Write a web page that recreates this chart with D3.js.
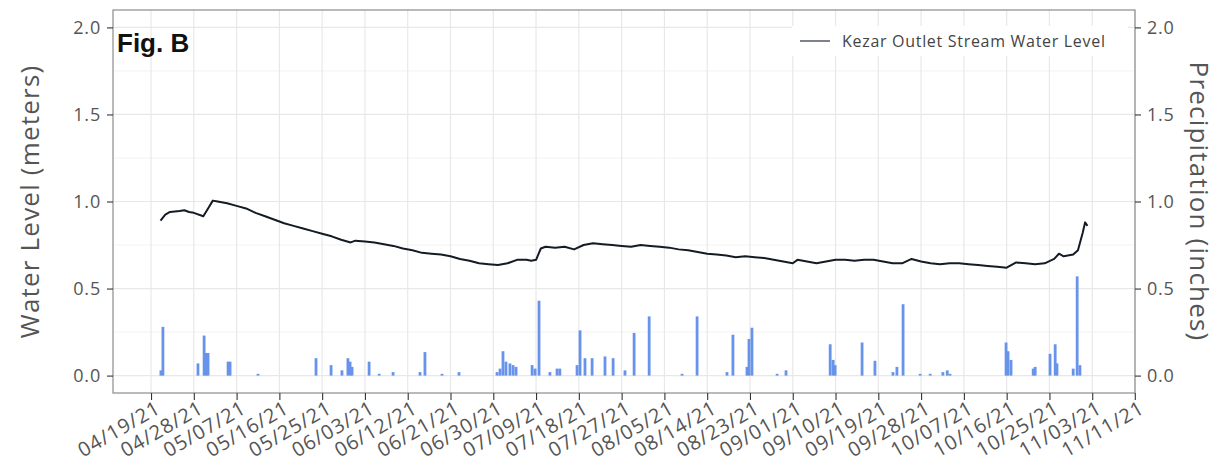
<!DOCTYPE html>
<html lang="en">
<head>
<meta charset="UTF-8">
<title>Fig. B</title>
<script src="https://d3js.org/d3.v7.min.js"></script>
<style>
  body { margin: 0; background: #fff; }
  text { font-family: "Open Sans", Lato, sans-serif; }
</style>
</head>
<body>
<div class="chart"></div>
<script>
// water level readings (meters)
const levelDates = ['2021-04-21 00','2021-04-22 00','2021-04-23 00','2021-04-25 00','2021-04-26 00','2021-04-27 00','2021-04-28 00','2021-04-30 00',
  '2021-05-01 00','2021-05-02 00','2021-05-03 00','2021-05-05 00','2021-05-07 00','2021-05-09 00','2021-05-11 00','2021-05-13 00','2021-05-15 00',
  '2021-05-17 00','2021-05-19 00','2021-05-21 00','2021-05-23 00','2021-05-25 00','2021-05-27 00','2021-05-29 00','2021-05-31 00',
  '2021-06-01 00','2021-06-03 00','2021-06-05 00','2021-06-07 00','2021-06-09 00','2021-06-11 00','2021-06-13 00','2021-06-15 00',
  '2021-06-17 00','2021-06-19 00','2021-06-21 00','2021-06-23 00','2021-06-25 00','2021-06-27 00','2021-06-29 00',
  '2021-07-01 00','2021-07-03 00','2021-07-05 00','2021-07-07 00','2021-07-08 00','2021-07-09 00','2021-07-10 00','2021-07-11 00',
  '2021-07-13 00','2021-07-15 00','2021-07-17 00','2021-07-19 00','2021-07-21 00','2021-07-23 00','2021-07-25 00','2021-07-27 00',
  '2021-07-29 00','2021-07-31 00','2021-08-02 00','2021-08-04 00','2021-08-06 00','2021-08-08 00','2021-08-10 00','2021-08-12 00',
  '2021-08-14 00','2021-08-16 00','2021-08-18 00','2021-08-20 00','2021-08-22 00','2021-08-24 00','2021-08-26 00','2021-08-28 00',
  '2021-08-30 00','2021-09-01 00','2021-09-02 00','2021-09-04 00','2021-09-06 00','2021-09-08 00','2021-09-10 00','2021-09-12 00',
  '2021-09-14 00','2021-09-16 00','2021-09-18 00','2021-09-20 00','2021-09-22 00','2021-09-24 00','2021-09-26 00','2021-09-28 00',
  '2021-09-30 00','2021-10-02 00','2021-10-04 00','2021-10-06 00','2021-10-08 00','2021-10-10 00','2021-10-12 00','2021-10-14 00',
  '2021-10-16 00','2021-10-18 00','2021-10-20 00','2021-10-22 00','2021-10-24 00','2021-10-26 00','2021-10-27 00','2021-10-28 00',
  '2021-10-30 00','2021-10-31 00','2021-11-01 00','2021-11-01 12','2021-11-02 00']
const levelValues = [0.89,0.925,0.94,0.945,0.95,0.94,0.935,0.915,
  0.96,1.005,1.0,0.99,0.975,0.96,0.935,0.915,0.895,
  0.875,0.86,0.845,0.83,0.815,0.80,0.78,0.765,
  0.775,0.77,0.765,0.755,0.745,0.73,0.72,0.705,
  0.70,0.695,0.685,0.67,0.66,0.645,0.64,
  0.635,0.645,0.665,0.665,0.66,0.665,0.73,0.74,
  0.735,0.74,0.725,0.75,0.76,0.755,0.75,0.745,
  0.74,0.75,0.745,0.74,0.735,0.725,0.72,0.71,
  0.70,0.695,0.69,0.68,0.685,0.68,0.675,0.665,
  0.655,0.645,0.665,0.655,0.645,0.655,0.665,0.665,
  0.66,0.665,0.665,0.655,0.645,0.645,0.67,0.655,
  0.645,0.64,0.645,0.645,0.64,0.635,0.63,0.625,
  0.62,0.65,0.645,0.64,0.645,0.67,0.70,0.685,
  0.695,0.72,0.82,0.88,0.86]

// precipitation (inches)
const rainDates = ['2021-04-21 02','2021-04-21 12','2021-04-28 21','2021-04-30 04','2021-04-30 14','2021-05-01 00','2021-05-05 05','2021-05-05 15',
  '2021-05-11 12','2021-05-23 17','2021-05-26 21','2021-05-29 04','2021-05-30 10','2021-05-30 21','2021-05-31 07','2021-06-03 21',
  '2021-06-06 00','2021-06-08 22','2021-06-14 14','2021-06-15 15','2021-06-19 05','2021-06-22 19','2021-06-30 19','2021-07-01 10',
  '2021-07-02 01','2021-07-02 16','2021-07-03 12','2021-07-04 04','2021-07-04 19','2021-07-08 04','2021-07-08 19','2021-07-09 15',
  '2021-07-11 22','2021-07-13 10','2021-07-14 00','2021-07-17 15','2021-07-18 06','2021-07-19 07','2021-07-20 19','2021-07-23 12',
  '2021-07-25 05','2021-07-27 17','2021-07-29 15','2021-08-01 19','2021-08-08 17','2021-08-11 21','2021-08-18 04','2021-08-19 10',
  '2021-08-22 09','2021-08-22 19','2021-08-23 10','2021-08-28 17','2021-08-30 14','2021-09-08 21','2021-09-09 12','2021-09-09 22',
  '2021-09-15 14','2021-09-18 07','2021-09-22 02','2021-09-22 22','2021-09-24 05','2021-09-27 19','2021-09-29 22','2021-10-02 14',
  '2021-10-03 12','2021-10-04 02','2021-10-15 21','2021-10-16 07','2021-10-16 22','2021-10-21 14','2021-10-22 00','2021-10-25 03',
  '2021-10-26 05','2021-10-26 14','2021-10-30 00','2021-10-30 20','2021-10-31 10']
const rainValues = [0.03,0.28,0.07,0.23,0.13,0.13,0.08,0.08,
  0.01,0.10,0.06,0.03,0.10,0.08,0.05,0.08,
  0.01,0.02,0.02,0.135,0.01,0.02,0.02,0.04,
  0.14,0.08,0.07,0.06,0.05,0.06,0.04,0.43,
  0.02,0.04,0.04,0.06,0.26,0.10,0.10,0.11,
  0.10,0.03,0.245,0.34,0.01,0.34,0.02,0.235,
  0.05,0.21,0.275,0.01,0.03,0.18,0.09,0.06,
  0.19,0.085,0.02,0.05,0.41,0.01,0.01,0.02,
  0.03,0.01,0.19,0.14,0.09,0.04,0.05,0.125,
  0.18,0.07,0.04,0.57,0.06]

// x ticks every 9 days (last one falls on 11/11 after the DST shift)
const tickDates = ['2021-04-19 00','2021-04-28 00','2021-05-07 00','2021-05-16 00','2021-05-25 00','2021-06-03 00','2021-06-12 00','2021-06-21 00',
  '2021-06-30 00','2021-07-09 00','2021-07-18 00','2021-07-27 00','2021-08-05 00','2021-08-14 00','2021-08-23 00','2021-09-01 00',
  '2021-09-10 00','2021-09-19 00','2021-09-28 00','2021-10-07 00','2021-10-16 00','2021-10-25 00','2021-11-03 00','2021-11-11 23']
const tickLabels = ['04/19/21','04/28/21','05/07/21','05/16/21','05/25/21','06/03/21','06/12/21','06/21/21',
  '06/30/21','07/09/21','07/18/21','07/27/21','08/05/21','08/14/21','08/23/21','09/01/21',
  '09/10/21','09/19/21','09/28/21','10/07/21','10/16/21','10/25/21','11/03/21','11/11/21']
const yTicks = [0, 0.5, 1, 1.5, 2]
const yMinor = [0.25, 0.75, 1.25, 1.75]

const parse = d3.utcParse('%Y-%m-%d %H')
const width = 1218, height = 476
const panel = {left: 113, right: 1135, top: 10, bottom: 393}

const svg = d3.select('.chart').append('svg')
  .attr('width', width).attr('height', height)

const x = d3.scaleUtc()
  .domain([parse('2021-04-11 00'), parse('2021-11-12 00')])
  .range([panel.left, panel.right])
const y = d3.scaleLinear()
  .domain([-0.1, 2.1])
  .range([panel.bottom, panel.top])

// grid
const grid = svg.append('g')
grid.selectAll('.minor').data(yMinor).join('line')
  .attr('x1', panel.left).attr('x2', panel.right)
  .attr('y1', d => y(d)).attr('y2', d => y(d))
  .attr('stroke', '#f2f2f2').attr('stroke-width', 1)
grid.selectAll('.hmaj').data(yTicks).join('line')
  .attr('x1', panel.left).attr('x2', panel.right)
  .attr('y1', d => y(d)).attr('y2', d => y(d))
  .attr('stroke', '#e8e8e8').attr('stroke-width', 1.2)
grid.selectAll('.vmaj').data(tickDates).join('line')
  .attr('x1', d => x(parse(d))).attr('x2', d => x(parse(d)))
  .attr('y1', panel.top).attr('y2', panel.bottom)
  .attr('stroke', '#e8e8e8').attr('stroke-width', 1.2)

// precipitation bars
const barW = 2.8
svg.append('g').selectAll('rect')
  .data(rainDates.map((d, i) => ({date: parse(d), v: rainValues[i]})))
  .join('rect')
  .attr('x', d => x(d.date) - barW / 2)
  .attr('y', d => y(d.v))
  .attr('width', barW)
  .attr('height', d => y(0) - y(d.v))
  .attr('fill', '#6893ea')

// water level line
const line = d3.line().x(d => x(d.date)).y(d => y(d.v))
svg.append('path')
  .datum(levelDates.map((d, i) => ({date: parse(d), v: levelValues[i]})))
  .attr('d', line)
  .attr('fill', 'none')
  .attr('stroke', '#141b26')
  .attr('stroke-width', 2)
  .attr('stroke-linejoin', 'round')

// panel border
svg.append('rect')
  .attr('x', panel.left).attr('y', panel.top)
  .attr('width', panel.right - panel.left).attr('height', panel.bottom - panel.top)
  .attr('fill', 'none').attr('stroke', '#8c8c8c').attr('stroke-width', 1.2)

// axes
const yLeft = svg.append('g')
  .attr('transform', `translate(${panel.left},0)`)
  .call(d3.axisLeft(y).tickValues(yTicks).tickFormat(d3.format('.1f')).tickSize(6).tickPadding(6))
const yRight = svg.append('g')
  .attr('transform', `translate(${panel.right},0)`)
  .call(d3.axisRight(y).tickValues(yTicks).tickFormat(d3.format('.1f')).tickSize(6).tickPadding(6))
const xAxis = svg.append('g')
  .attr('transform', `translate(0,${panel.bottom})`)
  .call(d3.axisBottom(x).tickValues(tickDates.map(parse))
    .tickFormat((d, i) => tickLabels[i]).tickSize(7))

;[yLeft, yRight, xAxis].forEach(g => {
  g.select('.domain').remove()
  g.selectAll('.tick line').attr('stroke', '#333').attr('stroke-width', 1.1)
  g.selectAll('.tick text').attr('fill', '#555')
    .style('font-size', '18px').style('letter-spacing', '0.8px')
})

xAxis.selectAll('.tick text')
  .style('font-size', '20px')
  .style('letter-spacing', '1px')
  .attr('text-anchor', 'end')
  .attr('x', 0).attr('y', 0)
  .attr('dy', '0.75em')
  .attr('transform', 'translate(3,6) rotate(-30)')

// axis titles
svg.append('text')
  .attr('transform', `translate(39,${(panel.top + panel.bottom) / 2}) rotate(-90)`)
  .attr('text-anchor', 'middle')
  .attr('fill', '#555')
  .style('font-size', '26px')
  .style('letter-spacing', '1.2px')
  .text('Water Level (meters)')
svg.append('text')
  .attr('transform', `translate(1190,${(panel.top + panel.bottom) / 2}) rotate(90)`)
  .attr('text-anchor', 'middle')
  .attr('fill', '#555')
  .style('font-size', '26px')
  .style('letter-spacing', '1.2px')
  .text('Precipitation (inches)')

// figure tag
svg.append('text')
  .attr('x', 117).attr('y', 52)
  .attr('fill', '#111')
  .style('font-family', '"Liberation Sans", Arial, sans-serif')
  .style('font-weight', 'bold')
  .style('font-size', '26px')
  .text('Fig. B')

// legend
const legend = svg.append('g').attr('transform', 'translate(792,26)')
legend.append('rect')
  .attr('width', 336).attr('height', 30)
  .attr('fill', '#fff')
legend.append('line')
  .attr('x1', 8).attr('x2', 38).attr('y1', 15).attr('y2', 15)
  .attr('stroke', '#5c6270').attr('stroke-width', 1.6)
legend.append('text')
  .attr('x', 50).attr('y', 21)
  .attr('fill', '#444')
  .style('font-size', '16px')
  .style('letter-spacing', '0.7px')
  .text('Kezar Outlet Stream Water Level')
</script>
</body>
</html>
